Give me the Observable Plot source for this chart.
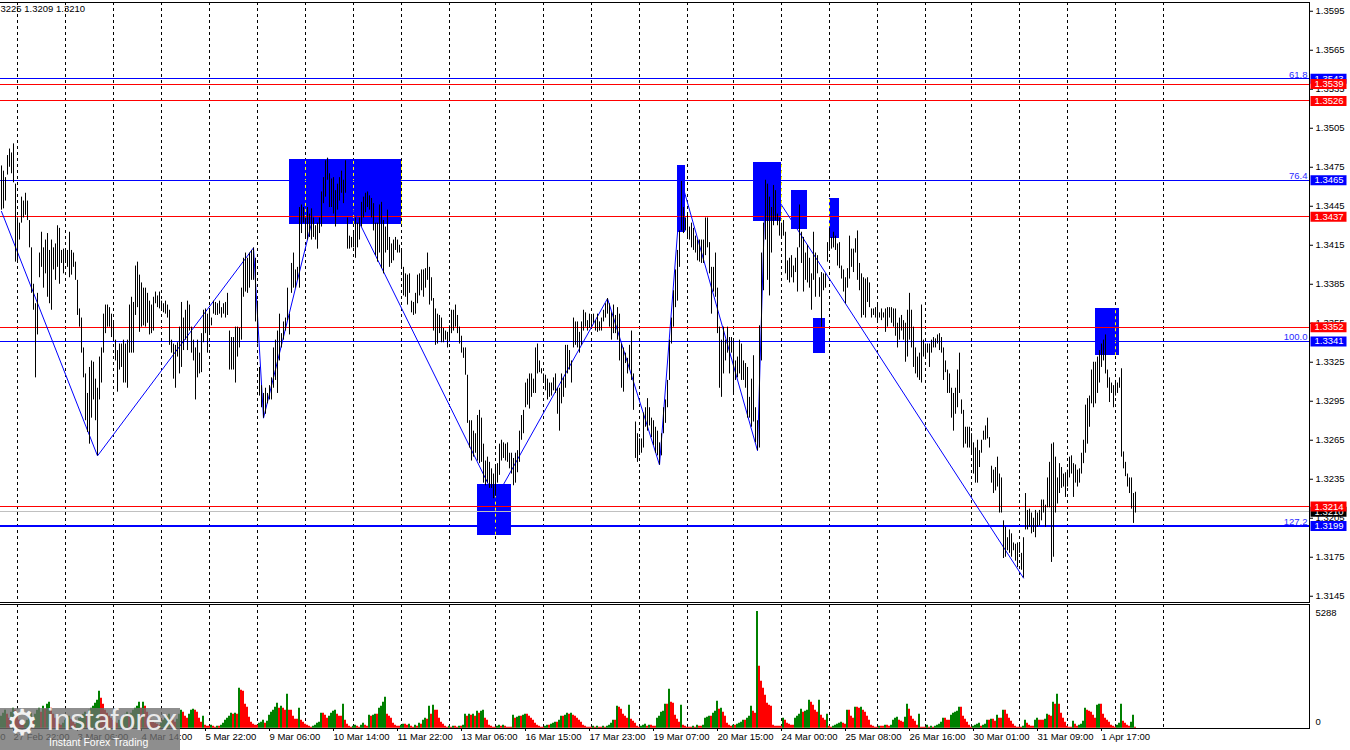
<!DOCTYPE html>
<html><head><meta charset="utf-8">
<script src="https://cdn.jsdelivr.net/npm/d3@7"></script>
<script src="https://cdn.jsdelivr.net/npm/@observablehq/plot@0.6"></script>
<style>
html,body{margin:0;padding:0;background:#fff;}
#wrap{position:relative;width:1350px;height:750px;overflow:hidden;font-family:"Liberation Sans",Arial,sans-serif;}
#price{position:absolute;left:0;top:0;}
#vol{position:absolute;left:0;top:604px;}
#wm{position:absolute;left:0;top:708px;width:180px;height:42px;background:rgba(110,110,110,0.78);overflow:hidden;}
#wm .gear{position:absolute;left:6px;top:-3px;font-size:36px;line-height:1;color:#f2f2f2;font-family:"DejaVu Sans",sans-serif;}
#wm .big{position:absolute;left:47px;top:-3px;font-size:30px;line-height:1;color:rgba(240,240,240,0.95);}
#wm .small{position:absolute;left:49px;top:29px;font-size:10.5px;line-height:1;color:#fff;}
</style></head><body>
<div id="wrap"><div id="price"></div><div id="vol"></div>
<div id="wm"><span class="gear">⚙</span><span class="big">instaforex</span><span class="small">Instant Forex Trading</span></div></div>
<script>
// ---- price data: hourly bars, values in pips above 1.3000 ----
const BASE = 1.3;
const highPips = [
476,472,467,484,489,486,493,462,436,432,
452,449,455,449,434,413,385,370,378,409,
425,413,419,424,411,419,413,416,430,428,
411,412,412,411,425,411,409,402,388,366,
359,336,316,301,321,326,325,312,305,329,
336,362,369,369,367,362,357,342,334,339,
339,342,339,342,369,375,371,399,402,392,
386,382,382,378,372,369,375,379,376,379,
372,370,372,369,365,342,339,338,340,352,
371,359,365,372,369,352,342,336,342,332,
347,365,366,362,365,359,372,371,370,372,
367,370,371,378,349,344,344,352,352,351,
382,405,409,405,409,411,413,405,372,321,
307,301,305,301,307,313,336,342,349,362,
347,356,359,382,362,401,409,396,398,444,
446,444,436,444,439,443,436,430,432,436,
456,467,480,482,470,466,467,457,462,467,
472,465,480,436,422,421,424,436,432,436,
448,452,455,456,453,451,447,432,432,446,
448,434,429,442,421,416,419,421,419,
415,412,398,393,392,393,372,371,378,392,
393,396,396,397,409,398,390,374,366,362,
361,359,351,349,348,353,365,365,369,361,
352,345,336,336,315,280,280,272,270,284,
288,282,262,249,252,248,243,239,246,247,
262,265,263,262,263,255,255,251,255,257,
272,284,288,309,312,316,316,312,336,339,
326,320,316,315,312,309,309,313,316,305,
305,316,313,338,338,334,326,359,356,356,348,
356,365,363,357,362,361,362,357,362,356,
359,365,370,374,370,363,369,361,367,362,
339,336,332,328,338,349,316,279,270,266,
266,286,290,297,290,282,280,275,272,263,
270,290,296,311,342,359,380,396,411,426,
464,444,436,440,429,432,428,422,419,419,
419,419,436,436,417,398,398,409,382,352,
342,352,342,352,344,344,342,326,329,342,
339,326,324,321,298,312,330,290,280,353,
409,432,465,462,452,444,461,457,439,436,
432,434,425,403,405,407,399,405,413,446,
425,421,409,415,405,393,425,409,407,390,
394,393,393,417,428,421,425,422,416,417,
399,396,390,397,422,412,412,420,426,401,
393,390,389,390,386,366,366,367,369,363,
366,363,366,367,367,367,366,366,355,359,
361,357,355,365,378,365,352,336,329,332,
369,342,339,339,339,342,344,343,346,347,
344,336,326,319,316,305,301,305,319,332,
296,288,275,275,275,270,263,259,265,257,
265,272,276,
282,267,245,242,244,252,239,236,203,198,
190,196,193,186,185,186,185,178,190,224,
211,212,209,205,211,209,211,219,219,215,
236,248,262,263,252,236,247,244,239,240,
242,252,253,247,246,242,243,255,265,292,
297,299,319,325,325,329,334,339,342,346,
319,313,309,307,311,309,313,320,256,248,
239,236,236,224,225
];
const lowPips = [
442,443,449,469,475,470,463,402,403,419,
432,436,438,434,413,378,365,313,346,390,
398,382,393,375,370,365,396,388,398,385,
401,393,401,398,390,392,398,388,361,352,
332,313,280,271,262,282,296,280,253,296,
309,332,347,352,352,344,342,326,302,319,
321,309,309,305,332,332,332,361,367,348,
352,353,352,355,346,347,349,370,367,366,
365,363,362,359,338,332,312,305,329,316,
321,334,342,334,349,332,326,296,313,316,
317,340,347,332,347,353,362,361,361,362,
359,362,359,361,319,319,319,309,329,336,
342,375,379,378,382,388,388,356,339,299,
290,282,285,293,296,296,305,311,301,326,
336,342,349,357,346,378,382,382,388,382,
424,432,421,419,421,419,421,419,412,424,
429,447,452,465,444,444,439,429,442,449,
455,447,455,412,412,413,413,405,413,419,
429,436,440,444,442,436,426,407,402,409,
397,393,409,411,398,401,403,411,409,
409,398,376,375,369,378,363,361,362,370,
376,380,375,382,388,369,372,349,338,339,
347,340,340,342,336,343,347,349,352,347,
339,332,328,315,278,259,249,252,255,249,
247,248,232,230,232,228,228,220,222,232,
238,249,251,249,248,243,239,230,232,240,
248,265,270,290,292,289,298,301,301,316,
317,316,309,303,296,298,299,303,301,285,
272,293,298,305,316,319,309,336,338,336,332,
338,349,352,349,351,352,355,349,348,349,
349,356,359,362,352,342,347,347,342,326,
305,302,324,316,319,311,288,251,248,255,
255,259,275,272,276,267,261,255,253,246,
253,270,278,290,311,339,352,367,372,398,
426,424,426,420,419,413,411,409,403,402,
401,401,407,413,393,362,379,375,347,305,
298,316,326,332,316,332,301,311,313,316,
311,311,305,282,282,275,279,263,257,259,
326,380,419,388,376,409,430,434,430,422,
421,422,393,388,386,390,386,394,379,413,
401,379,388,386,382,365,388,375,393,375,
352,380,382,402,411,412,413,411,399,397,
389,379,370,382,389,398,394,409,388,380,
359,361,359,371,367,359,361,359,356,359,
357,359,348,352,359,355,352,345,336,342,
349,342,325,329,342,336,321,316,313,311,
309,329,329,332,321,332,336,336,339,334,
332,311,317,301,301,282,272,285,290,301,
285,259,262,259,259,255,239,232,232,244,
255,265,265,
266,259,232,224,226,229,209,209,174,175,
180,178,175,180,172,167,178,165,159,196,
196,198,193,194,190,198,199,203,209,198,
213,213,171,175,209,216,224,228,229,221,
229,236,239,221,232,229,232,239,247,255,
262,275,293,290,293,301,309,321,326,316,
305,294,301,290,299,301,305,252,243,237,
229,224,212,201,209
];
// tick volumes per bar
const volumes = [
542,678,814,633,452,723,904,814,542,362,
271,181,226,362,542,678,452,633,814,904,
723,994,859,1085,1175,904,633,452,271,181,
136,226,362,452,542,407,271,181,316,452,
542,633,723,588,814,904,994,1130,1266,1672,
1356,1085,814,678,542,452,362,271,226,362,
452,542,633,723,542,678,814,904,994,1175,
904,1175,994,723,542,362,271,226,181,136,
226,362,452,542,633,452,362,271,407,633,
814,723,542,452,633,814,859,814,723,452,
271,542,136,90,90,136,90,45,90,90,
136,226,362,452,542,678,633,678,633,1808,
1718,1672,1085,949,497,271,181,136,136,226,
271,362,226,316,588,723,814,949,1130,904,
994,904,814,1537,814,814,542,407,407,904,
362,271,181,136,90,45,90,136,226,271,
678,678,588,452,542,678,768,814,633,542,
542,1085,362,181,90,45,90,136,90,45,
136,226,136,90,588,542,588,633,633,904,
994,1175,1401,633,542,452,226,136,90,90,
136,181,181,136,181,90,45,136,90,226,
181,362,452,407,994,633,1040,814,814,452,
271,181,90,45,90,45,90,90,45,90,
90,136,633,542,633,588,633,542,768,678,
768,814,452,362,136,90,45,45,90,136,
90,136,90,45,45,45,588,452,497,542,
542,588,633,633,542,452,362,226,136,90,
45,45,90,136,136,181,226,271,271,362,
542,542,588,678,633,678,588,542,452,362,
271,136,90,45,45,45,90,45,90,45,
45,90,45,90,136,226,362,362,994,949,
859,633,542,452,1040,407,316,226,90,45,
90,136,181,90,136,136,90,90,452,542,
723,768,1085,1085,1763,1175,1130,588,407,271,
1040,136,90,45,45,45,90,45,136,90,
90,136,452,497,542,542,678,768,1220,859,
904,723,542,226,136,90,136,136,181,226,
271,362,362,452,542,994,768,678,5288,2802,
2124,1808,1492,1130,1040,994,136,90,90,90,
90,452,362,226,181,136,136,452,542,633,
859,723,768,814,1266,1175,1040,814,723,1266,
588,452,362,633,90,45,90,136,181,226,
271,226,181,814,814,542,452,949,949,904,
949,814,723,542,362,136,90,45,45,90,
90,90,136,136,90,136,362,452,497,362,
316,271,497,1085,859,542,407,316,136,633,
45,45,45,136,45,90,45,90,136,181,
271,452,452,362,362,588,678,723,768,949,
949,542,407,271,136,45,90,136,181,226,
90,136,181,362,362,407,407,316,588,452,
452,814,814,633,452,316,181,90,45,45,
45,90,362,226,136,90,90,362,452,362,
362,362,407,633,588,542,1175,1085,1537,1085,
678,452,271,90,45,45,316,181,90,136,
181,316,904,814,768,723,588,452,1040,1085,
1085,633,452,362,271,136,90,45,136,226,
1085,316,226,136,90,271,588,45
];
// zigzag turning points (bar index, price)
const zzIndex = [0, 48, 126, 131, 163, 247, 303, 329, 340, 378, 382, 511];
const zzPrice = [1.3441, 1.3253, 1.3413, 1.3282, 1.3482, 1.3220, 1.3374, 1.3246, 1.3464, 1.3257, 1.3465, 1.3159];
// rectangles: start bar, end bar, upper price, lower price
const boxStart = [144, 238, 338, 376, 395, 414, 406, 547];
const boxEnd   = [200, 255, 342, 390, 403, 419, 412, 559];
const boxTop   = [1.3481, 1.3231, 1.3476, 1.3479, 1.3457, 1.3451, 1.3359, 1.3366];
const boxBot   = [1.3431, 1.3192, 1.3425, 1.3433, 1.3427, 1.3420, 1.3332, 1.3330];
// horizontal levels
const redLevels = [1.3539, 1.3526, 1.3437, 1.3352, 1.3214];
const fibPrices = [1.3543, 1.3465, 1.3341, 1.3199];
const fibLabels = ["61.8", "76.4", "100.0", "127,2"];
const currentPrice = 1.3210;
// axes
const yTicks = [1.3145,1.3175,1.3205,1.3235,1.3265,1.3295,1.3325,1.3355,1.3385,1.3415,1.3445,1.3475,1.3505,1.3535,1.3565,1.3595];
const dayStarts = [8,32,56,80,104,128,152,176,200,224,247,271,295,319,343,366,390,414,438,462,485,509,533,557,581];
const labelIndex = [-26,6,38,70,102,134,166,198,230,262,294,326,358,390,422,454,486,518,550];
const labelText = ["26 Feb 14:00","27 Feb 22:00","3 Mar 06:00","4 Mar 14:00","5 Mar 22:00","9 Mar 06:00","10 Mar 14:00","11 Mar 22:00","13 Mar 06:00","16 Mar 15:00","17 Mar 23:00","19 Mar 07:00","20 Mar 15:00","24 Mar 00:00","25 Mar 08:00","26 Mar 16:00","30 Mar 01:00","31 Mar 09:00","1 Apr 17:00"];
const volMax = 5288;
const headerText = "3225 1.3209 1.3210";

// ---- build tables ----
const bars = highPips.map((h, i) => ({i, high: BASE + h / 1e4, low: BASE + lowPips[i] / 1e4}));
const zz = zzIndex.map((i, k) => ({i, p: zzPrice[k]}));
const boxes = boxStart.map((s, k) => ({i1: s, i2: boxEnd[k], top: boxTop[k], bottom: boxBot[k]}));
const gridInBoxes = boxes.flatMap(b => dayStarts.filter(d => d >= b.i1 && d <= b.i2).map(d => ({d, top: b.top, bottom: b.bottom})));
const fibs = fibPrices.map((p, k) => ({p, label: fibLabels[k]}));
const vols = volumes.map((v, i) => ({i, v, up: i === 0 || v > volumes[i - 1]}));
const labelMap = new Map(labelIndex.map((d, k) => [d, labelText[k]]));

const RED = "#ff0000", BLUE = "#0000ff";
const tags = [
  {p: currentPrice, c: "#000000"},
  {p: fibPrices[0], c: BLUE},
  {p: redLevels[0], c: RED},
  {p: redLevels[1], c: RED},
  {p: fibPrices[1], c: BLUE},
  {p: redLevels[2], c: RED},
  {p: redLevels[3], c: RED},
  {p: fibPrices[2], c: BLUE},
  {p: redLevels[4], c: RED},
  {p: fibPrices[3], c: BLUE}
];
const tagSymbol = {draw(ctx) { ctx.moveTo(-18, -5); ctx.lineTo(18, -5); ctx.lineTo(18, 5); ctx.lineTo(-18, 5); ctx.closePath(); }};
const tagMarks = tags.flatMap(t => [
  Plot.dot([t], {y: "p", frameAnchor: "right", dx: 19, symbol: tagSymbol, r: 5, fill: t.c, stroke: null}),
  Plot.text([t], {y: "p", text: d => d.p.toFixed(4), frameAnchor: "right", dx: 5, textAnchor: "start", fill: "white"})
]);

const FONT = "'Liberation Sans', Arial, sans-serif";
const X = {domain: [-0.5, 654], range: [0, 1309], axis: null, label: null};
const CRISP = "crispEdges";

const price = Plot.plot({
  width: 1350, height: 604,
  marginLeft: -2, marginRight: 41, marginTop: 2, marginBottom: 2,
  style: {fontFamily: FONT, fontSize: "9.5px", background: "white", color: "black"},
  x: X,
  y: {domain: [1.31398, 1.36012], range: [602.5, 2.7], axis: null, label: null},
  marks: [
    Plot.ruleX(dayStarts, {stroke: "black", strokeDasharray: "3,3"}),
    Plot.rect(boxes, {x1: "i1", x2: "i2", y1: "bottom", y2: "top", fill: BLUE, shapeRendering: CRISP}),
    Plot.ruleX(gridInBoxes, {x: "d", y1: "bottom", y2: "top", stroke: "#ffff00", strokeDasharray: "3,3"}),
    Plot.ruleY([currentPrice], {stroke: "#c0c0c0", shapeRendering: CRISP}),
    Plot.ruleY(redLevels, {stroke: RED, shapeRendering: CRISP}),
    Plot.ruleY(fibs, {y: "p", stroke: BLUE, strokeWidth: d => d.label === "127,2" ? 2 : 1, shapeRendering: CRISP}),
    Plot.line(zz, {x: "i", y: "p", stroke: BLUE, strokeWidth: 1}),
    Plot.ruleX(bars, {x: "i", y1: "low", y2: "high", stroke: "black"}),
    Plot.frame({stroke: "black"}),
    Plot.axisY(yTicks, {anchor: "right", tickSize: 3, tickPadding: 3, tickFormat: d => d.toFixed(4), label: null}),
    ...tagMarks,
    Plot.text(fibs, {y: "p", text: "label", frameAnchor: "right", dx: -2, textAnchor: "end", lineAnchor: "bottom", dy: -1, fill: "#2a2aff"}),
    Plot.text([headerText], {text: d => d, frameAnchor: "top-left", dx: 2, dy: 3, textAnchor: "start", lineAnchor: "top", fill: "black"})
  ]
});
document.getElementById("price").appendChild(price);

const vol = Plot.plot({
  width: 1350, height: 146,
  marginLeft: -2, marginRight: 41, marginTop: 0, marginBottom: 22,
  style: {fontFamily: FONT, fontSize: "9.5px", background: "white", color: "black"},
  x: X,
  y: {domain: [0, volMax], range: [123.7, 7], axis: null, label: null},
  marks: [
    Plot.ruleX(dayStarts, {stroke: "black", strokeDasharray: "3,3"}),
    Plot.ruleX(vols, {x: "i", y1: 0, y2: "v", stroke: d => d.up ? "#008000" : "#ff0000", strokeWidth: 2, dx: -0.5}),
    Plot.frame({stroke: "black"}),
    Plot.axisX(labelIndex, {anchor: "bottom", tickSize: 3, tickPadding: 2, textAnchor: "start", tickFormat: d => labelMap.get(d), label: null}),
    Plot.text([volMax], {y: d => d, text: d => String(d), frameAnchor: "right", dx: 6, textAnchor: "start", dy: 1}),
    Plot.text([0], {y: d => d, text: d => String(d), frameAnchor: "right", dx: 6, textAnchor: "start", dy: -6})
  ]
});
document.getElementById("vol").appendChild(vol);
</script></body></html>
